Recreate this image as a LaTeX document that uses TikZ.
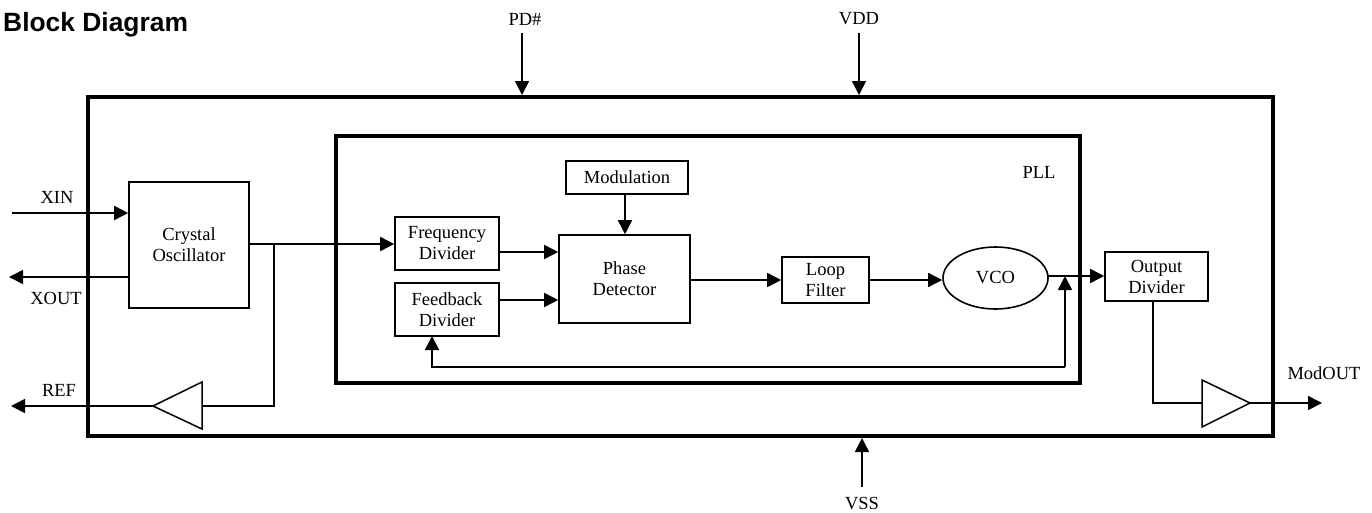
\documentclass[tikz,border=0pt]{standalone}
\usepackage{fontspec}
\setmainfont{Liberation Serif}
\newfontfamily\arialf{Liberation Sans}
\usetikzlibrary{arrows.meta,shapes.geometric}
\begin{document}
\begin{tikzpicture}[x=1pt,y=-1pt,
  every node/.style={font=\fontsize{18.5}{21}\selectfont, inner sep=0pt},
  blk/.style={draw, line width=1.6pt, align=center},
  arr/.style={line width=1.6pt, -{Triangle[length=14pt,width=14pt]}},
  wire/.style={line width=1.6pt},
]
\useasboundingbox (0,0) rectangle (1372,512);

% title
\node[anchor=base west, font=\arialf\bfseries\fontsize{26.4}{30}\selectfont] (title) at (3,31) {Block Diagram};

% chip outline and PLL
\node[draw, line width=4pt, minimum width=1185pt, minimum height=339pt] (chip) at (680.5,266.5) {};
\node[draw, line width=3.5pt, minimum width=744pt, minimum height=247pt] (pll) at (708,259.5) {};
\node (plllbl) at (1039,172) {PLL};

% blocks
\node[blk, minimum width=120pt, minimum height=126pt] (xo) at (189,245) {Crystal\\Oscillator};
\node[blk, minimum width=104pt, minimum height=53pt] (fd) at (447,243.5) {Frequency\\Divider};
\node[blk, minimum width=104pt, minimum height=53pt] (fb) at (447,309.5) {Feedback\\Divider};
\node[blk, minimum width=122pt, minimum height=33pt] (mod) at (627,177.5) {Modulation};
\node[blk, minimum width=131pt, minimum height=88pt] (pd) at (624.5,279) {Phase\\Detector};
\node[blk, minimum width=87pt, minimum height=46pt] (lf) at (825.5,280) {Loop\\Filter};
\node[blk, ellipse, minimum width=105pt, minimum height=62pt] (vco) at (995.5,278) {VCO};
\node[blk, minimum width=103pt, minimum height=49pt] (od) at (1156.5,276.5) {Output\\Divider};

% buffers
\coordinate (b1tip) at (153,406);
\coordinate (b1in) at (202,406);
\draw[line width=1.5pt, line join=miter] (202,382) -- (b1tip) -- (202,429) -- cycle;
\coordinate (b2tip) at (1250,403);
\coordinate (b2in) at (1202,403);
\draw[line width=1.5pt, line join=miter] (1202,380) -- (b2tip) -- (1202,427) -- cycle;

% pins
\coordinate (pdpin) at (522,33);
\coordinate (vddpin) at (859,33);
\coordinate (vsspin) at (862,487);
\coordinate (xinpin) at (12,213);
\coordinate (xoutpin) at (9,277);
\coordinate (refpin) at (11,406);
\coordinate (modpin) at (1322,403);

\node (pdl) at (525,19) {PD\#};
\node (vddl) at (859,19) {VDD};
\node (vssl) at (862,504) {VSS};
\node (xinl) at (57,197) {XIN};
\node (xoutl) at (56,298) {XOUT};
\node (refl) at (59,390) {REF};
\node (modl) at (1324,373) {ModOUT};

\draw[arr] (pdpin) -- (pdpin |- chip.north);
\draw[arr] (vddpin) -- (vddpin |- chip.north);
\draw[arr] (vsspin) -- (vsspin |- chip.south);
\draw[arr] (xinpin) -- (xinpin -| xo.west);
\draw[arr] (xo.west |- xoutpin) -- (xoutpin);
\draw[arr] (b1tip) -- (refpin);
\draw[arr] (b2tip) -- (modpin);

% connections
\coordinate (xoout) at (249,244);
\coordinate (brk) at (274,244);
\draw[arr] (xoout) -- (xoout -| fd.west);
\draw[wire] (brk) |- (b1in);
\draw[arr] (fd.east |- 0,252) -- (pd.west |- 0,252);
\draw[arr] (fb.east |- 0,300) -- (pd.west |- 0,300);
\draw[arr] (mod.south -| 625,0) -- (pd.north -| 625,0);
\draw[arr] (pd.east |- lf.west) -- (lf.west);
\draw[arr] (lf.east) -- (lf.east -| vco.west);
\coordinate (vcoout) at (1047.5,276);
\draw[arr] (vcoout) -- (vcoout -| od.west);
\coordinate (fbj) at (1065,367);
\coordinate (fbin) at (432,336);
\draw[arr] (fbj) -- (fbj |- vcoout);
\draw[arr] (fbj) -| (fbin);
\draw[wire] (od.south -| 1153,0) |- (b2in);
\end{tikzpicture}
\end{document}
